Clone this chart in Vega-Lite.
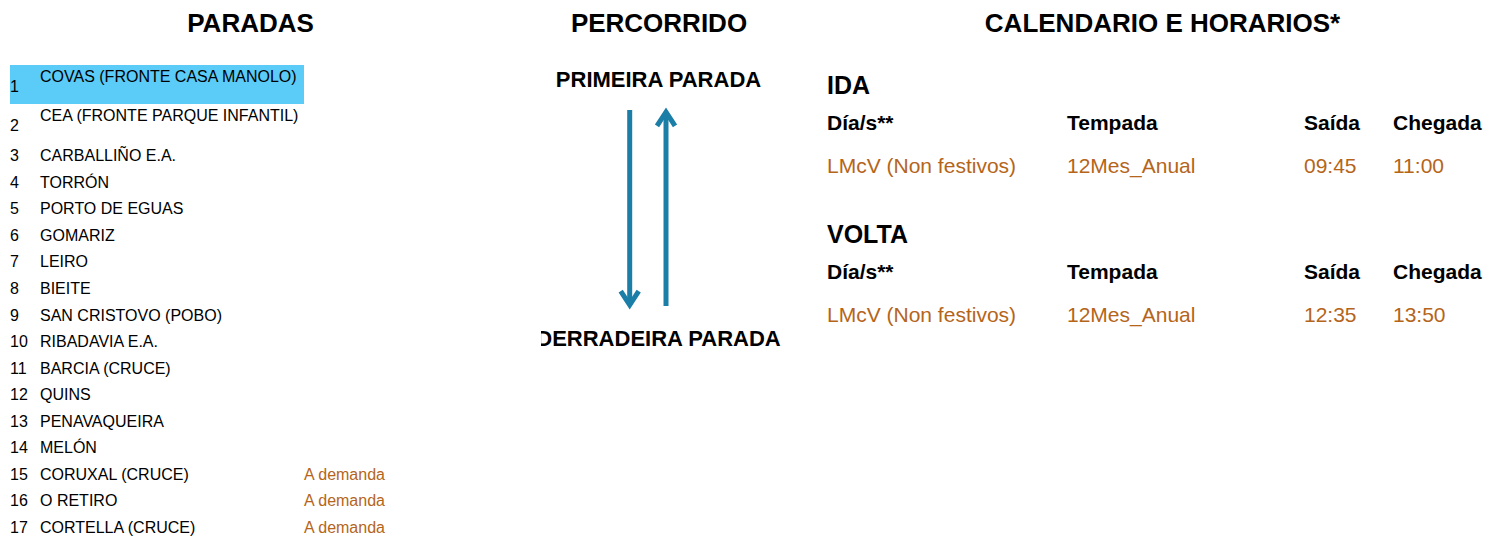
{
  "$schema": "https://vega.github.io/schema/vega-lite/v6.json",
  "background": "white",
  "padding": 0,
  "spacing": 0,
  "datasets": {
    "secciones": [
      {"seccion": "PARADAS"},
      {"seccion": "PERCORRIDO"},
      {"seccion": "CALENDARIO E HORARIOS*"}
    ],
    "paradas": [
      {"stop": 1, "parada": "COVAS (FRONTE CASA MANOLO)", "nota": ""},
      {"stop": 2, "parada": "CEA (FRONTE PARQUE INFANTIL)", "nota": ""},
      {"stop": 3, "parada": "CARBALLIÑO E.A.", "nota": ""},
      {"stop": 4, "parada": "TORRÓN", "nota": ""},
      {"stop": 5, "parada": "PORTO DE EGUAS", "nota": ""},
      {"stop": 6, "parada": "GOMARIZ", "nota": ""},
      {"stop": 7, "parada": "LEIRO", "nota": ""},
      {"stop": 8, "parada": "BIEITE", "nota": ""},
      {"stop": 9, "parada": "SAN CRISTOVO (POBO)", "nota": ""},
      {"stop": 10, "parada": "RIBADAVIA E.A.", "nota": ""},
      {"stop": 11, "parada": "BARCIA (CRUCE)", "nota": ""},
      {"stop": 12, "parada": "QUINS", "nota": ""},
      {"stop": 13, "parada": "PENAVAQUEIRA", "nota": ""},
      {"stop": 14, "parada": "MELÓN", "nota": ""},
      {"stop": 15, "parada": "CORUXAL (CRUCE)", "nota": "A demanda"},
      {"stop": 16, "parada": "O RETIRO", "nota": "A demanda"},
      {"stop": 17, "parada": "CORTELLA (CRUCE)", "nota": "A demanda"}
    ],
    "extremos": [
      {"extremo": "PRIMEIRA PARADA"},
      {"extremo": "DERRADEIRA PARADA"}
    ],
    "sentidos": [
      {"sentido": "IDA", "desde": "PRIMEIRA PARADA", "ata": "DERRADEIRA PARADA"},
      {"sentido": "VOLTA", "desde": "DERRADEIRA PARADA", "ata": "PRIMEIRA PARADA"}
    ],
    "horarios": [
      {"Sentido": "IDA", "Día/s**": "LMcV (Non festivos)", "Tempada": "12Mes_Anual", "Saída": "09:45", "Chegada": "11:00"},
      {"Sentido": "VOLTA", "Día/s**": "LMcV (Non festivos)", "Tempada": "12Mes_Anual", "Saída": "12:35", "Chegada": "13:50"}
    ]
  },
  "vconcat": [
    {
      "spacing": 0,
      "hconcat": [
        {
          "width": 541, "height": 50,
          "data": {"name": "secciones"},
          "transform": [{"filter": "datum.seccion == 'PARADAS'"}],
          "mark": {"type": "text", "fontSize": 26, "fontWeight": "bold", "align": "center", "dx": -20, "dy": -1},
          "encoding": {"text": {"field": "seccion"}}
        },
        {
          "width": 240, "height": 50,
          "data": {"name": "secciones"},
          "transform": [{"filter": "datum.seccion == 'PERCORRIDO'"}],
          "mark": {"type": "text", "fontSize": 26, "fontWeight": "bold", "align": "center", "dx": -2, "dy": -1},
          "encoding": {"text": {"field": "seccion"}}
        },
        {
          "width": 704, "height": 50,
          "data": {"name": "secciones"},
          "transform": [{"filter": "datum.seccion == 'CALENDARIO E HORARIOS*'"}],
          "mark": {"type": "text", "fontSize": 26, "fontWeight": "bold", "align": "center", "dx": 29.5, "dy": -1},
          "encoding": {"text": {"field": "seccion"}}
        }
      ]
    },
    {
      "spacing": 0,
      "hconcat": [
        {
          "spacing": 0,
          "hconcat": [
            {
              "width": 40, "height": 478,
              "data": {"name": "paradas"},
              "transform": [{"fold": ["stop"], "as": ["columna", "valor"]}],
              "resolve": {"scale": {"y": "independent"}},
              "layer": [
                {
                  "transform": [{"filter": "datum.stop == 1"}],
                  "mark": {"type": "rect", "color": "#5BCBF8"},
                  "encoding": {
                    "x": {"field": "columna", "type": "nominal", "axis": null, "scale": {"type": "band", "paddingInner": 0, "paddingOuter": 0.16667, "align": 1}},
                    "y": {"field": "stop", "type": "ordinal", "axis": null, "scale": {"type": "band", "domain": [1, 2, 3, 4, 5, 6, 7, 8, 9, 10, 11], "paddingInner": 0, "paddingOuter": 0.628, "align": 0.306}}
                  }
                },
                {
                  "transform": [{"filter": "datum.stop <= 2"}],
                  "mark": {"type": "text"},
                  "encoding": {
                    "x": {"field": "columna", "type": "nominal", "axis": null, "bandPosition": 0, "scale": {"type": "band", "paddingInner": 0, "paddingOuter": 0.16667, "align": 1}},
                    "y": {"field": "stop", "type": "ordinal", "axis": null, "bandPosition": 0.56, "scale": {"type": "band", "domain": [1, 2, 3, 4, 5, 6, 7, 8, 9, 10, 11], "paddingInner": 0, "paddingOuter": 0.628, "align": 0.306}},
                    "text": {"field": "stop"}
                  }
                },
                {
                  "transform": [{"filter": "datum.stop >= 3"}],
                  "mark": {"type": "text"},
                  "encoding": {
                    "x": {"field": "columna", "type": "nominal", "axis": null, "bandPosition": 0, "scale": {"type": "band", "paddingInner": 0, "paddingOuter": 0.16667, "align": 1}},
                    "y": {"field": "stop", "type": "quantitative", "axis": null, "scale": {"domain": [-1, 17], "reverse": true, "nice": false, "zero": false}},
                    "text": {"field": "stop"}
                  }
                }
              ]
            },
            {
              "width": 264, "height": 478,
              "data": {"name": "paradas"},
              "transform": [{"fold": ["parada"], "as": ["columna", "valor"]}],
              "resolve": {"scale": {"y": "independent"}},
              "layer": [
                {
                  "transform": [{"filter": "datum.stop == 1"}],
                  "mark": {"type": "rect", "color": "#5BCBF8"},
                  "encoding": {
                    "x": {"field": "columna", "type": "nominal", "axis": null, "scale": {"type": "band", "paddingInner": 0, "paddingOuter": 0}},
                    "y": {"field": "stop", "type": "ordinal", "axis": null, "scale": {"type": "band", "domain": [1, 2, 3, 4, 5, 6, 7, 8, 9, 10, 11], "paddingInner": 0, "paddingOuter": 0.628, "align": 0.306}}
                  }
                },
                {
                  "transform": [{"filter": "datum.stop <= 2"}],
                  "mark": {"type": "text"},
                  "encoding": {
                    "x": {"field": "columna", "type": "nominal", "axis": null, "bandPosition": 0, "scale": {"type": "band", "paddingInner": 0, "paddingOuter": 0}},
                    "y": {"field": "stop", "type": "ordinal", "axis": null, "bandPosition": 0.3, "scale": {"type": "band", "domain": [1, 2, 3, 4, 5, 6, 7, 8, 9, 10, 11], "paddingInner": 0, "paddingOuter": 0.628, "align": 0.306}},
                    "text": {"field": "parada"}
                  }
                },
                {
                  "transform": [{"filter": "datum.stop >= 3"}],
                  "mark": {"type": "text"},
                  "encoding": {
                    "x": {"field": "columna", "type": "nominal", "axis": null, "bandPosition": 0, "scale": {"type": "band", "paddingInner": 0, "paddingOuter": 0}},
                    "y": {"field": "stop", "type": "quantitative", "axis": null, "scale": {"domain": [-1, 17], "reverse": true, "nice": false, "zero": false}},
                    "text": {"field": "parada"}
                  }
                }
              ]
            },
            {
              "width": 237, "height": 478,
              "data": {"name": "paradas"},
              "transform": [{"filter": "datum.nota != ''"}, {"fold": ["nota"], "as": ["columna", "valor"]}],
              "mark": {"type": "text", "color": "#B5651A"},
              "encoding": {
                "x": {"field": "columna", "type": "nominal", "axis": null, "bandPosition": 0, "scale": {"type": "band", "paddingInner": 0, "paddingOuter": 0}},
                "y": {"field": "stop", "type": "quantitative", "axis": null, "scale": {"domain": [-1, 17], "reverse": true, "nice": false, "zero": false}},
                "text": {"field": "nota"}
              }
            }
          ]
        },
        {
          "width": 240, "height": 478,
          "layer": [
            {
              "data": {"name": "extremos"},
              "mark": {"type": "text", "fontSize": 22, "fontWeight": "bold", "align": "center", "dx": -2.5, "clip": true},
              "encoding": {
                "y": {"field": "extremo", "type": "nominal", "axis": null, "scale": {"type": "point", "domain": ["PRIMEIRA PARADA", "DERRADEIRA PARADA"], "padding": 0.42456, "align": 0.13667}},
                "text": {"field": "extremo"}
              }
            },
            {
              "data": {"name": "sentidos"},
              "transform": [{"filter": "datum.sentido == 'IDA'"}],
              "mark": {"type": "rule", "strokeWidth": 5, "color": "#1A7EA7", "yOffset": 30, "y2Offset": -33.5},
              "encoding": {
                "x": {"field": "sentido", "type": "nominal", "axis": null, "bandPosition": 0.7392, "scale": {"type": "band", "domain": ["IDA", "VOLTA"], "paddingInner": 0, "paddingOuter": 0}},
                "y": {"field": "desde", "type": "nominal", "axis": null, "scale": {"type": "point", "domain": ["PRIMEIRA PARADA", "DERRADEIRA PARADA"], "padding": 0.42456, "align": 0.13667}},
                "y2": {"field": "ata"}
              }
            },
            {
              "data": {"name": "sentidos"},
              "transform": [{"filter": "datum.sentido == 'VOLTA'"}],
              "mark": {"type": "rule", "strokeWidth": 5, "color": "#1A7EA7", "yOffset": -32.5, "y2Offset": 32},
              "encoding": {
                "x": {"field": "sentido", "type": "nominal", "axis": null, "bandPosition": 0.0417, "scale": {"type": "band", "domain": ["IDA", "VOLTA"], "paddingInner": 0, "paddingOuter": 0}},
                "y": {"field": "desde", "type": "nominal", "axis": null, "scale": {"type": "point", "domain": ["PRIMEIRA PARADA", "DERRADEIRA PARADA"], "padding": 0.42456, "align": 0.13667}},
                "y2": {"field": "ata"}
              }
            },
            {
              "data": {"name": "sentidos"},
              "transform": [{"filter": "datum.sentido == 'IDA'"}],
              "mark": {"type": "point", "filled": false, "opacity": 1, "strokeWidth": 5, "strokeJoin": "miter", "color": "#1A7EA7", "size": 324, "shape": "M-1,-1.55L0,0L1,-1.55", "yOffset": -33.5},
              "encoding": {
                "x": {"field": "sentido", "type": "nominal", "axis": null, "bandPosition": 0.7392, "scale": {"type": "band", "domain": ["IDA", "VOLTA"], "paddingInner": 0, "paddingOuter": 0}},
                "y": {"field": "ata", "type": "nominal", "axis": null, "scale": {"type": "point", "domain": ["PRIMEIRA PARADA", "DERRADEIRA PARADA"], "padding": 0.42456, "align": 0.13667}}
              }
            },
            {
              "data": {"name": "sentidos"},
              "transform": [{"filter": "datum.sentido == 'VOLTA'"}],
              "mark": {"type": "point", "filled": false, "opacity": 1, "strokeWidth": 5, "strokeJoin": "miter", "color": "#1A7EA7", "size": 324, "shape": "M-1,1.55L0,0L1,1.55", "yOffset": 32},
              "encoding": {
                "x": {"field": "sentido", "type": "nominal", "axis": null, "bandPosition": 0.0417, "scale": {"type": "band", "domain": ["IDA", "VOLTA"], "paddingInner": 0, "paddingOuter": 0}},
                "y": {"field": "ata", "type": "nominal", "axis": null, "scale": {"type": "point", "domain": ["PRIMEIRA PARADA", "DERRADEIRA PARADA"], "padding": 0.42456, "align": 0.13667}}
              }
            }
          ]
        },
        {
          "spacing": 0,
          "hconcat": [
            {
              "width": 286, "height": 478,
              "data": {"name": "horarios"},
              "transform": [{"fold": ["Día/s**"], "as": ["columna", "valor"]}],
              "encoding": {
                "x": {"field": "columna", "type": "nominal", "axis": null, "bandPosition": 0, "scale": {"type": "band", "paddingInner": 0, "paddingOuter": 0.09583, "align": 1}}
              },
              "layer": [
                {
                  "mark": {"type": "text", "fontSize": 25, "fontWeight": "bold"},
                  "encoding": {
                    "y": {"field": "Sentido", "type": "nominal", "axis": null, "bandPosition": 0.138, "scale": {"type": "band", "domain": ["IDA", "VOLTA"], "paddingInner": 0, "paddingOuter": 0.6008, "align": 0.0836}},
                    "text": {"field": "Sentido"}
                  }
                },
                {
                  "mark": {"type": "text", "fontSize": 21, "fontWeight": "bold"},
                  "encoding": {
                    "y": {"field": "Sentido", "type": "nominal", "axis": null, "bandPosition": 0.395, "scale": {"type": "band", "domain": ["IDA", "VOLTA"], "paddingInner": 0, "paddingOuter": 0.6008, "align": 0.0836}},
                    "text": {"field": "columna"}
                  }
                },
                {
                  "mark": {"type": "text", "fontSize": 21, "color": "#B5651A"},
                  "encoding": {
                    "y": {"field": "Sentido", "type": "nominal", "axis": null, "bandPosition": 0.68, "scale": {"type": "band", "domain": ["IDA", "VOLTA"], "paddingInner": 0, "paddingOuter": 0.6008, "align": 0.0836}},
                    "text": {"field": "valor"}
                  }
                }
              ]
            },
            {
              "width": 237, "height": 478,
              "data": {"name": "horarios"},
              "transform": [{"fold": ["Tempada"], "as": ["columna", "valor"]}],
              "encoding": {
                "x": {"field": "columna", "type": "nominal", "axis": null, "bandPosition": 0, "scale": {"type": "band", "paddingInner": 0, "paddingOuter": 0}}
              },
              "layer": [
                {
                  "mark": {"type": "text", "fontSize": 21, "fontWeight": "bold"},
                  "encoding": {
                    "y": {"field": "Sentido", "type": "nominal", "axis": null, "bandPosition": 0.395, "scale": {"type": "band", "domain": ["IDA", "VOLTA"], "paddingInner": 0, "paddingOuter": 0.6008, "align": 0.0836}},
                    "text": {"field": "columna"}
                  }
                },
                {
                  "mark": {"type": "text", "fontSize": 21, "color": "#B5651A"},
                  "encoding": {
                    "y": {"field": "Sentido", "type": "nominal", "axis": null, "bandPosition": 0.68, "scale": {"type": "band", "domain": ["IDA", "VOLTA"], "paddingInner": 0, "paddingOuter": 0.6008, "align": 0.0836}},
                    "text": {"field": "valor"}
                  }
                }
              ]
            },
            {
              "width": 89, "height": 478,
              "data": {"name": "horarios"},
              "transform": [{"fold": ["Saída"], "as": ["columna", "valor"]}],
              "encoding": {
                "x": {"field": "columna", "type": "nominal", "axis": null, "bandPosition": 0, "scale": {"type": "band", "paddingInner": 0, "paddingOuter": 0}}
              },
              "layer": [
                {
                  "mark": {"type": "text", "fontSize": 21, "fontWeight": "bold"},
                  "encoding": {
                    "y": {"field": "Sentido", "type": "nominal", "axis": null, "bandPosition": 0.395, "scale": {"type": "band", "domain": ["IDA", "VOLTA"], "paddingInner": 0, "paddingOuter": 0.6008, "align": 0.0836}},
                    "text": {"field": "columna"}
                  }
                },
                {
                  "mark": {"type": "text", "fontSize": 21, "color": "#B5651A"},
                  "encoding": {
                    "y": {"field": "Sentido", "type": "nominal", "axis": null, "bandPosition": 0.68, "scale": {"type": "band", "domain": ["IDA", "VOLTA"], "paddingInner": 0, "paddingOuter": 0.6008, "align": 0.0836}},
                    "text": {"field": "valor"}
                  }
                }
              ]
            },
            {
              "width": 92, "height": 478,
              "data": {"name": "horarios"},
              "transform": [{"fold": ["Chegada"], "as": ["columna", "valor"]}],
              "encoding": {
                "x": {"field": "columna", "type": "nominal", "axis": null, "bandPosition": 0, "scale": {"type": "band", "paddingInner": 0, "paddingOuter": 0}}
              },
              "layer": [
                {
                  "mark": {"type": "text", "fontSize": 21, "fontWeight": "bold"},
                  "encoding": {
                    "y": {"field": "Sentido", "type": "nominal", "axis": null, "bandPosition": 0.395, "scale": {"type": "band", "domain": ["IDA", "VOLTA"], "paddingInner": 0, "paddingOuter": 0.6008, "align": 0.0836}},
                    "text": {"field": "columna"}
                  }
                },
                {
                  "mark": {"type": "text", "fontSize": 21, "color": "#B5651A"},
                  "encoding": {
                    "y": {"field": "Sentido", "type": "nominal", "axis": null, "bandPosition": 0.68, "scale": {"type": "band", "domain": ["IDA", "VOLTA"], "paddingInner": 0, "paddingOuter": 0.6008, "align": 0.0836}},
                    "text": {"field": "valor"}
                  }
                }
              ]
            }
          ]
        }
      ]
    }
  ],
  "config": {
    "view": {"stroke": null},
    "concat": {"spacing": 0},
    "text": {"font": "Liberation Sans", "fontSize": 16, "align": "left", "baseline": "middle", "color": "#000000"}
  }
}
